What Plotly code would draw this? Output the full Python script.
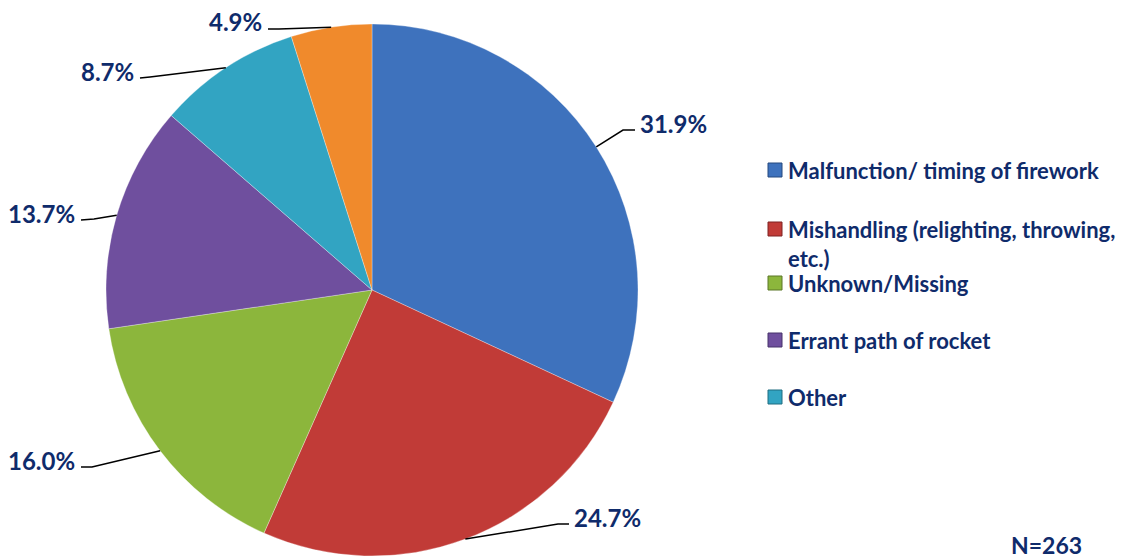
import math
import plotly.graph_objects as go

# ---- data ----
categories = ["Malfunction/ timing of firework",
              "Mishandling (relighting, throwing,<br>etc.)",
              "Unknown/Missing",
              "Errant path of rocket",
              "Other",
              "Other firework-related"]
percents = [31.9, 24.7, 16.0, 13.7, 8.7, 4.9]
legend_shown = [True, True, True, True, True, False]
n_total = 263

# ---- style ----
colors = ["#3E72BD", "#C13B37", "#8CB63C", "#6F4F9E", "#32A4C2", "#F08A2C"]
legend_border = ["#24487E", "#7E2222", "#5A7726", "#47336A", "#1E6C80", "#9C5A1C"]
text_color = "#0F2B6B"
FONT = "Lato"
W, H = 1138, 560
CX, CY, R = 372, 290, 266   # pie centre / radius in pixels

# label line end points (pixels) and side for each slice
label_ends = [(635, 130), (569, 524), (81, 467), (81, 220), (140, 78), (268, 29)]
label_elbows = [(623, 130), (558, 524), (92, 467), (94, 219), (150, 77), (279, 29)]
label_side = ["left", "left", "right", "right", "right", "right"]


def px(x, y):
    return x / W, 1 - y / H


fig = go.Figure()
fig.add_trace(go.Pie(
    values=percents,
    labels=categories,
    sort=False,
    direction="clockwise",
    rotation=0,
    textinfo="none",
    hoverinfo="label+percent",
    marker=dict(colors=colors, line=dict(color="rgba(255,255,255,0.3)", width=1)),
    domain=dict(x=[(CX - R) / W, (CX + R) / W], y=[(H - CY - R) / H, (H - CY + R) / H]),
    showlegend=False,
))

shapes = []
annotations = []
total = sum(percents)
cum = 0.0
for i, p in enumerate(percents):
    mid = (cum + p / 2) / total * 2 * math.pi
    cum += p
    ex, ey = CX + R * math.sin(mid), CY - R * math.cos(mid)
    bx, by = label_elbows[i]
    lx, ly = label_ends[i]
    x0, y0 = px(ex, ey)
    x1, y1 = px(bx, by)
    x2, y2 = px(lx, ly)
    shapes.append(dict(type="path", xref="paper", yref="paper",
                       path=f"M {x0} {y0} L {x1} {y1} L {x2} {y2}",
                       line=dict(color="black", width=1.5)))
    if label_side[i] == "left":
        tx, anchor = lx + 3, "left"
    else:
        tx, anchor = lx - 4, "right"
    ax, ay = px(tx, ly - 7)
    annotations.append(dict(x=ax, y=ay, xref="paper", yref="paper",
                            text=f"<b>{p:.1f}%</b>", showarrow=False,
                            xanchor=anchor, yanchor="middle",
                            font=dict(family=FONT, size=24, color=text_color)))

# legend (Excel-style, drawn manually)
legend_rows = [170, 229, 283, 340, 397]
row = 0
for i, cat in enumerate(categories):
    if not legend_shown[i]:
        continue
    yc = legend_rows[row]
    row += 1
    mx0, my0 = px(768, yc - 7)
    mx1, my1 = px(782, yc + 7)
    shapes.append(dict(type="rect", xref="paper", yref="paper",
                       x0=mx0, x1=mx1, y0=my1, y1=my0,
                       fillcolor=colors[i], line=dict(color=legend_border[i], width=1)))
    tx, ty = px(786, yc - 15)
    annotations.append(dict(x=tx, y=ty, xref="paper", yref="paper",
                            text=f"<b>{cat}</b>", showarrow=False,
                            xanchor="left", yanchor="top", align="left",
                            font=dict(family=FONT, size=22, color=text_color)))

nx, ny = px(1046, 545)
annotations.append(dict(x=nx, y=ny, xref="paper", yref="paper",
                        text=f"<b>N={n_total}</b>", showarrow=False,
                        xanchor="center", yanchor="middle",
                        font=dict(family=FONT, size=23, color=text_color)))

fig.update_layout(
    width=W, height=H,
    margin=dict(l=0, r=0, t=0, b=0),
    paper_bgcolor="white", plot_bgcolor="white",
    shapes=shapes, annotations=annotations,
    font=dict(family=FONT),
)

fig.write_html("out.html",
               config={"displayModeBar": False},
               post_script="document.body.style.margin='0px';document.body.style.overflow='hidden';")
